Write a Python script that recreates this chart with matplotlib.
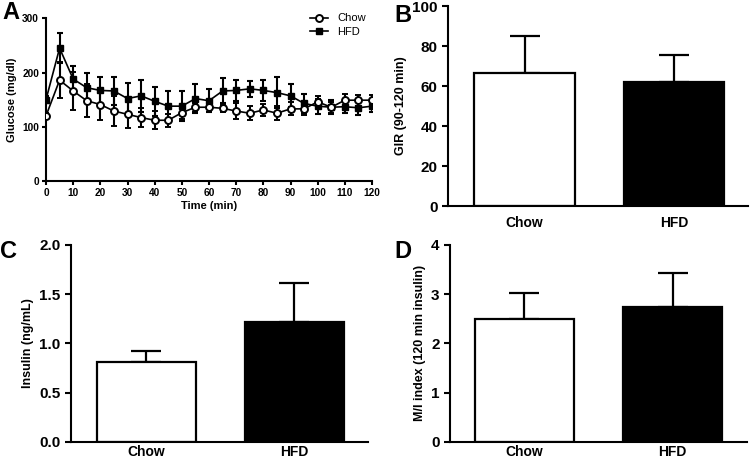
import matplotlib.pyplot as plt
from matplotlib.lines import Line2D
import numpy as np

plt.rcParams['font.family'] = ['Liberation Sans', 'DejaVu Sans']
plt.rcParams['font.weight'] = 'bold'

# Panel A: glucose during clamp
time = list(range(0, 125, 5))
chow_glu = [120, 186, 166, 148, 141, 129, 123, 117, 112, 112, 126, 136, 136, 134, 129,
            125, 131, 125, 133, 133, 146, 136, 149, 149, 149]
chow_glu_err = [5, 33, 35, 30, 28, 28, 25, 18, 17, 12, 12, 8, 8, 7, 14,
                13, 11, 13, 12, 12, 10, 10, 11, 10, 10]
hfd_glu = [150, 245, 188, 172, 167, 166, 152, 157, 147, 138, 138, 152, 148, 166, 167,
           170, 167, 163, 157, 143, 138, 136, 137, 135, 138]
hfd_glu_err = [6, 27, 24, 28, 25, 26, 28, 29, 27, 28, 28, 26, 21, 23, 20,
               15, 20, 28, 21, 17, 14, 13, 12, 14, 11]

groups = ['Chow', 'HFD']
gir = [66.7, 61.8]
gir_err = [18.3, 13.7]
insulin = [0.81, 1.22]
insulin_err = [0.11, 0.39]
mi_index = [2.49, 2.74]
mi_index_err = [0.53, 0.70]

W, H = 750, 462
fig = plt.figure(figsize=(W / 100, H / 100), dpi=100)


def px_axes(left, right, top, bottom):
    return fig.add_axes([left / W, 1 - bottom / H, (right - left) / W, (bottom - top) / H])


def style(ax, fs):
    ax.spines['top'].set_visible(False)
    ax.spines['right'].set_visible(False)
    for s in ['left', 'bottom']:
        ax.spines[s].set_linewidth(1.5)
    ax.tick_params(width=1.5, length=4, labelsize=fs)


# A
axA = px_axes(46, 372, 18.3, 181)
axA.errorbar(time, chow_glu, yerr=chow_glu_err, color='black', marker='o', ms=5,
             mfc='white', mec='black', mew=1.4, lw=1.2, elinewidth=1.5, capsize=2.5,
             capthick=1.5, zorder=3)
axA.errorbar(time, hfd_glu, yerr=hfd_glu_err, color='black', marker='s', ms=4.5,
             mfc='black', mec='black', lw=1.2, elinewidth=1.5, capsize=2.5,
             capthick=1.5, zorder=2)
axA.set_xlim(0, 120)
axA.set_ylim(0, 300)
axA.set_xticks(range(0, 121, 10))
axA.set_yticks([0, 100, 200, 300])
axA.set_xlabel('Time (min)', fontsize=8, fontweight='bold', labelpad=2)
axA.set_ylabel('Glucose (mg/dl)', fontsize=8, fontweight='bold', labelpad=4)
style(axA, 7.3)
axA.tick_params(length=3, pad=2)
handles = [Line2D([], [], color='black', lw=1.2, marker='o', ms=5, mfc='white', mew=1.4),
           Line2D([], [], color='black', lw=1.2, marker='s', ms=4.5, mfc='black')]
leg = axA.legend(handles, groups, loc='upper right', frameon=False, fontsize=8,
                 handlelength=1.6, bbox_to_anchor=(370 / W, 1 - 9 / H),
                 bbox_transform=fig.transFigure, borderaxespad=0, labelspacing=0.35)
for t in leg.get_texts():
    t.set_fontweight('normal')


def bar_panel(ax, vals, errs, ylim, yticks, ylabel, xlim, fmt, xpad):
    ax.bar([0, 1], vals, width=0.67, color=['white', 'black'], edgecolor='black',
           linewidth=1.6, zorder=2)
    ax.errorbar([0, 1], vals, yerr=[[0, 0], errs], fmt='none', ecolor='black',
                elinewidth=1.6, capsize=11, capthick=1.6, zorder=1)
    ax.set_xlim(*xlim)
    ax.set_ylim(*ylim)
    ax.set_yticks(yticks)
    ax.set_yticklabels([fmt.format(v) for v in yticks])
    ax.set_xticks([0, 1])
    ax.set_xticklabels(groups, fontsize=10, fontweight='bold')
    ax.set_ylabel(ylabel, fontsize=9, fontweight='bold')
    style(ax, 11)
    ax.tick_params(axis='x', length=0, pad=xpad, labelsize=10)


axB = px_axes(448, 748, 6, 206)
bar_panel(axB, gir, gir_err, (0, 100), [0, 20, 40, 60, 80, 100], 'GIR (90-120 min)',
          (-0.512, 1.495), '{:.0f}', 7)

axC = px_axes(71, 368, 245, 441.7)
bar_panel(axC, insulin, insulin_err, (0, 2.0), [0, 0.5, 1.0, 1.5, 2.0], 'Insulin (ng/mL)',
          (-0.51, 1.497), '{:.1f}', 2.5)

axD = px_axes(450, 747, 245, 441.7)
bar_panel(axD, mi_index, mi_index_err, (0, 4), [0, 1, 2, 3, 4], 'M/I index (120 min insulin)',
          (-0.503, 1.503), '{:.0f}', 2.5)

for letter, x, y in [('A', 2, 1), ('B', 394, 4), ('C', 0, 240), ('D', 394, 240)]:
    fig.text(x / W, 1 - y / H, letter, fontsize=17, fontweight='bold', va='top', ha='left')

fig.savefig('out.png', dpi=100)
